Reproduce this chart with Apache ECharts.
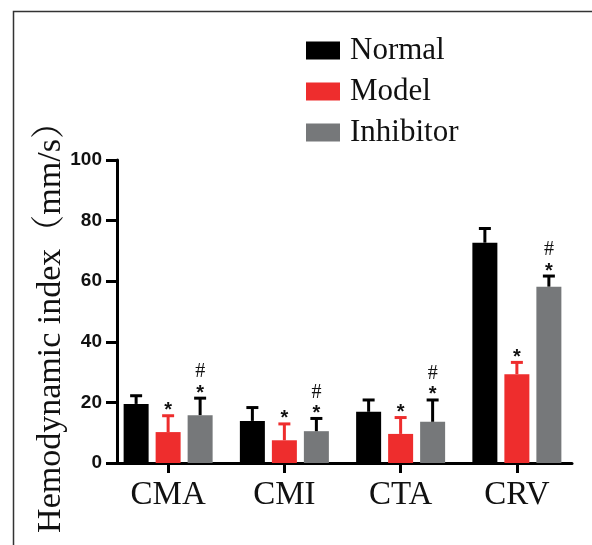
<!DOCTYPE html>
<html>
<head>
<meta charset="utf-8">
<script src="https://cdn.jsdelivr.net/npm/echarts@6/dist/echarts.min.js"></script>
<style>html,body{margin:0;padding:0;background:#fff;}#c{width:592px;height:545px;}</style>
</head>
<body>
<div id="c"></div>
<script>
const categories = ['CMA', 'CMI', 'CTA', 'CRV'];
const seriesNames = ['Normal', 'Model', 'Inhibitor'];
const normalMean = [19.5, 13.9, 16.9, 72.7];
const normalErr  = [22.2, 18.3, 20.8, 77.4];
const modelMean  = [10.2, 7.5, 9.6, 29.3];
const modelErr   = [15.6, 12.9, 15.0, 33.2];
const inhibMean  = [15.8, 10.5, 13.6, 58.2];
const inhibErr   = [21.4, 14.7, 20.8, 61.7];
const normalSig  = ['', '', '', ''];
const modelSig   = ['*', '*', '*', '*'];
const inhibSig   = ['#', '#', '#', '#'];
const yTicks = [0, 20, 40, 60, 80, 100];
const yTitle = 'Hemodynamic index（mm/s）';

const colors = ['#000000', '#EE2D2D', '#76787A'];
const errColors = ['#000000', '#EE2D2D', '#000000'];
const means = [normalMean, modelMean, inhibMean];
const errs = [normalErr, modelErr, inhibErr];
const sigs = [normalSig, modelSig, inhibSig];
const BAR_W = 25, BAR_STEP = 32;
const serif = '"Liberation Serif","Times New Roman","Noto Serif CJK SC","Noto Sans CJK SC",serif';
const sans = '"Liberation Sans",Arial,sans-serif';

const chart = echarts.init(document.getElementById('c'), null, {renderer: 'canvas'});

const series = [];
seriesNames.forEach((name, i) => {
  series.push({
    name: name, type: 'bar', xAxisIndex: 0, yAxisIndex: 0,
    barWidth: BAR_W, barGap: '28%',
    itemStyle: {color: colors[i]},
    data: means[i], z: 2
  });
});
seriesNames.forEach((name, i) => {
  series.push({
    name: name + ' err', type: 'custom', xAxisIndex: 0, yAxisIndex: 0, z: 3,
    data: categories.map((c, k) => [k, means[i][k], errs[i][k]]),
    renderItem: function (params, api) {
      const k = api.value(0);
      const base = api.coord([k, api.value(1)]);
      const top = api.coord([k, api.value(2)]);
      const x = base[0] + (i - 1) * BAR_STEP;
      const col = errColors[i];
      const children = [
        {type: 'line', shape: {x1: x, y1: base[1], x2: x, y2: top[1]}, style: {stroke: col, lineWidth: 3}},
        {type: 'line', shape: {x1: x - 6, y1: top[1], x2: x + 6, y2: top[1]}, style: {stroke: col, lineWidth: 3}}
      ];
      const s = sigs[i][k];
      if (i > 0) {
        children.push({type: 'text', style: {text: '*', x: x, y: top[1] + 5, textAlign: 'center', textVerticalAlign: 'bottom', font: 'bold 20px ' + sans, fill: '#111'}});
      }
      if (s === '#') {
        children.push({type: 'text', style: {text: '#', x: x, y: top[1] - 16, textAlign: 'center', textVerticalAlign: 'bottom', font: '20px ' + serif, fill: '#111'}});
      }
      return {type: 'group', children: children};
    }
  });
});

const option = {
  animation: false,
  backgroundColor: '#ffffff',
  legend: {
    data: seriesNames,
    orient: 'vertical', left: 301, top: 30,
    itemWidth: 34, itemHeight: 18, itemGap: 10, icon: 'rect',
    textStyle: {fontFamily: serif, fontSize: 31, color: '#111', padding: [0, 0, 0, 5]}
  },
  grid: [
    {left: 110, right: 17, top: 160, bottom: 82},
    {left: 117, right: 20, top: 160, bottom: 82}
  ],
  xAxis: [
    {type: 'category', gridIndex: 0, data: categories,
     axisLine: {show: false},
     axisTick: {show: true, alignWithLabel: true, length: 10, lineStyle: {width: 3, color: '#000'}},
     axisLabel: {fontFamily: serif, fontSize: 33, color: '#111', margin: 16},
     splitLine: {show: false}},
    {type: 'value', gridIndex: 1, min: 0, max: 1,
     axisLine: {show: true, onZero: false, lineStyle: {width: 3, color: '#000'}},
     axisTick: {show: false}, axisLabel: {show: false}, splitLine: {show: false}}
  ],
  yAxis: [
    {type: 'value', gridIndex: 0, min: 0, max: 100, show: false},
    {type: 'value', gridIndex: 1, min: yTicks[0], max: yTicks[yTicks.length - 1], interval: 20,
     axisLine: {show: true, lineStyle: {width: 3, color: '#000'}},
     axisTick: {show: true, length: 11, lineStyle: {width: 3, color: '#000'}},
     axisLabel: {fontFamily: sans, fontWeight: 'bold', fontSize: 19, color: '#111', margin: 15},
     splitLine: {show: false}}
  ],
  graphic: [
    {type: 'polyline', shape: {points: [[13.5, 545], [13.5, 11.5], [592, 11.5]]}, style: {stroke: '#333', lineWidth: 1.5, fill: null}, silent: true},
    {type: 'text', x: 51, y: 319, rotation: Math.PI / 2,
     style: {text: yTitle, font: '34px ' + serif, fill: '#111', textAlign: 'center', textVerticalAlign: 'middle'}}
  ],
  series: series
};
chart.setOption(option);
</script>
</body>
</html>
